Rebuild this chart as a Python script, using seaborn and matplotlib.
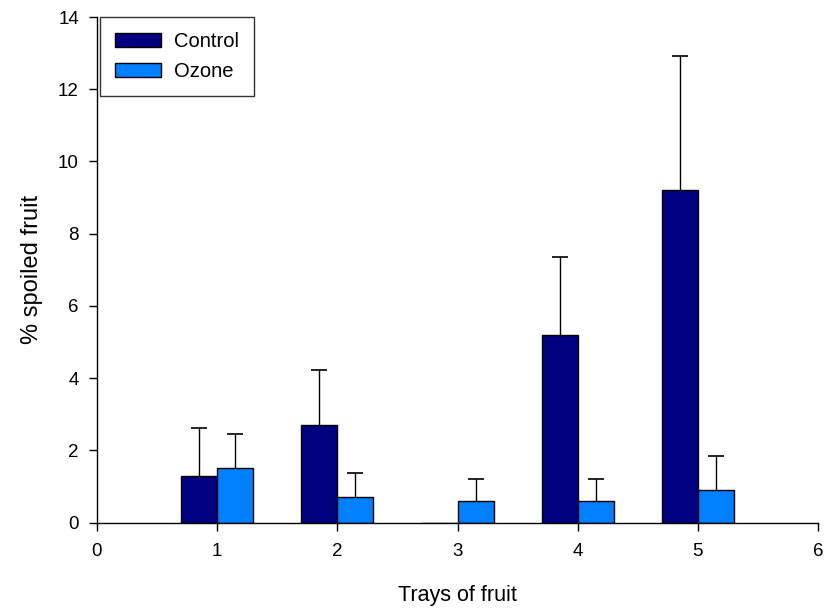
import pandas as pd
import numpy as np
import seaborn as sns
import matplotlib.pyplot as plt
from matplotlib.patches import Patch


trays = [1, 2, 3, 4, 5]
control = [1.3, 2.7, 0.0, 5.2, 9.2]
control_err = [1.32, 1.53, 0.0, 2.16, 3.73]
ozone = [1.5, 0.7, 0.6, 0.6, 0.9]
ozone_err = [0.96, 0.66, 0.6, 0.6, 0.93]

COLORS = {'Control': '#000080', 'Ozone': '#0080FF'}


sns.set_style("white")
plt.rcParams['font.family'] = ['Liberation Sans', 'DejaVu Sans']
plt.rcParams['text.color'] = 'black'
plt.rcParams['axes.labelcolor'] = 'black'
plt.rcParams['xtick.color'] = 'black'
plt.rcParams['ytick.color'] = 'black'

df = pd.DataFrame({'Tray': trays * 2,
                   'Spoiled': control + ozone,
                   'Treatment': ['Control'] * 5 + ['Ozone'] * 5})
errs = {'Control': control_err, 'Ozone': ozone_err}

fig = plt.figure(figsize=(8.25, 6.08), dpi=100)
ax = fig.add_axes([97 / 825, 1 - 522.5 / 608, 721 / 825, 505.5 / 608])

sns.barplot(data=df, x='Tray', y='Spoiled', hue='Treatment',
            palette=COLORS, native_scale=True, width=0.6,
            edgecolor='black', linewidth=1, saturation=1,
            errorbar=None, legend=False, ax=ax)

# upward-only error bars at each bar's centre
for cont, name in zip(ax.containers, ['Control', 'Ozone']):
    for bar, e in zip(cont, errs[name]):
        if e <= 0:
            continue
        cx = bar.get_x() + bar.get_width() / 2
        h = bar.get_height()
        eb = ax.errorbar(cx, h, yerr=[[0], [e]], fmt='none', ecolor='black',
                         elinewidth=1, capsize=5.5, capthick=1.2, zorder=1)
        for cap in eb[1]:
            if np.allclose(cap.get_ydata(), h):
                cap.set_visible(False)

ax.set_xlim(0, 6)
ax.set_ylim(0, 14)
ax.set_xticks(range(0, 7))
ax.set_yticks(range(0, 15, 2))
ax.set_xlabel('Trays of fruit', fontsize=15.5, labelpad=18)
ax.set_ylabel('% spoiled fruit', fontsize=17, labelpad=11)
ax.tick_params(axis='both', labelsize=13.5, direction='out', length=6,
               width=1, bottom=True, left=True)
ax.tick_params(axis='x', pad=9)
ax.tick_params(axis='y', pad=7)
for side in ['top', 'right']:
    ax.spines[side].set_visible(False)
for side in ['left', 'bottom']:
    ax.spines[side].set_color('black')
    ax.spines[side].set_linewidth(1)

handles = [Patch(facecolor=COLORS[k], edgecolor='black', label=k) for k in COLORS]
leg = ax.legend(handles=handles, loc='upper left', fontsize=14.5,
                frameon=True, fancybox=False, handlelength=2.3,
                handleheight=0.7, handletextpad=0.6, borderpad=0.75,
                labelspacing=0.55, borderaxespad=0,
                bbox_to_anchor=(100 / 825, 1 - 17 / 608),
                bbox_transform=fig.transFigure)
leg.get_frame().set_edgecolor('black')
leg.get_frame().set_linewidth(1)

fig.savefig('out.png', dpi=100)
